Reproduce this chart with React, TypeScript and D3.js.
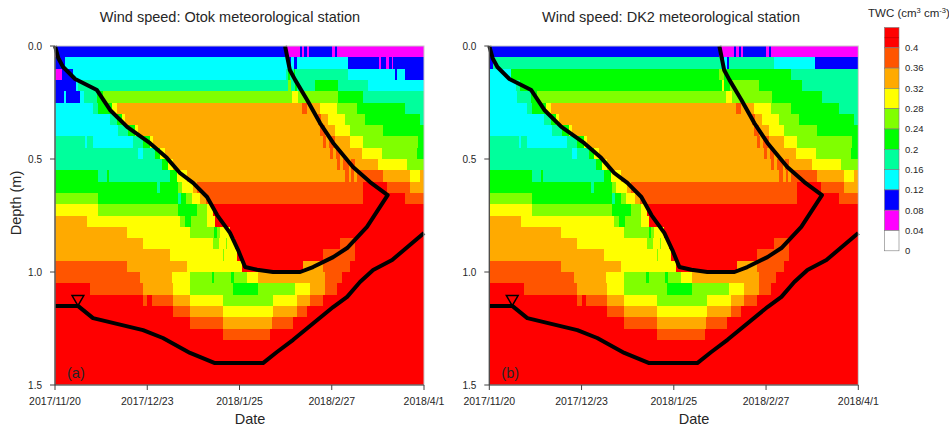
import React from "react";
import * as d3 from "d3";

// TWC classes, used as indexes into the palette
const W = 0, M = 1, B = 2, C = 3, S = 4, G = 5, L = 6, Y = 7, O = 8, D = 9, R = 10;

const palette = ["#ffffff", "#ff00ff", "#0000ff", "#00ffff", "#00ff9c", "#00ff00", "#80ff00", "#ffff00", "#ffaa00", "#ff5500", "#ff0000"];
const legendLabels = ["0.4", "0.36", "0.32", "0.28", "0.24", "0.2", "0.16", "0.12", "0.08", "0.04", "0"];
const dateTicks = ["2017/11/20", "2017/12/23", "2018/1/25", "2018/2/27", "2018/4/1"];
const depthTicks = [0, 0.5, 1.0, 1.5];
const layerThickness = 0.05;

// each row = one 5 cm layer; [start day since 2017/11/20, class]
const otokTopRows = [
  [[0, M], [0.7, B], [82.3, M], [87.7, B], [88.3, M], [89.2, B], [90, M], [90.8, B], [99.1, M], [100, B], [100.9, M]],
  [[0, B], [3.6, C], [83.4, B], [84.5, C], [85.5, B], [86.5, C], [104.8, B], [116, M], [116.7, B], [118.5, M], [119.5, B], [120.5, M], [121, B]],
  [[0, M], [2.5, B], [6.5, C], [82.8, S], [83.5, G], [84.2, S], [85.5, G], [86, S], [104.8, C], [121.6, B], [122.4, C], [125.2, B]],
  [[0, B], [7.5, C], [8.2, S], [83.4, L], [84.5, S], [86, G], [86.5, S], [93, G], [101.3, S], [112, C]],
  [[0, B], [3.3, C], [4, B], [8.9, C], [10.4, S], [15, G], [17, L], [84.8, Y], [86.9, L], [101.3, G], [110.2, S]],
];

const dk2TopRows = [
  [[0, M], [0.7, B], [82.3, M], [87.7, B], [88.3, M], [89.2, B], [90, M], [90.8, B], [99.1, M], [100, B], [100.9, M]],
  [[0, B], [1.5, S], [83.4, B], [84, C], [85, B], [85.9, S], [102, C], [116.5, B]],
  [[0, C], [7.8, G], [82.3, L], [84, G], [108, S]],
  [[0, C], [9.4, S], [11, G], [83.4, Y], [84, G], [86, L], [96.5, G], [112, S]],
  [[0, C], [10, S], [14.8, G], [17.2, L], [84.8, Y], [86.9, L], [101, G], [119, S]],
];

// layers 5..29 (0.25 m to 1.5 m), same at both stations
const deepRows = [
  [[0, C], [13.6, S], [15.4, G], [20.4, Y], [22.2, O], [88.4, D], [90.2, O], [94.8, Y], [100.9, L], [108.1, G], [125.2, S]],
  [[0, C], [19.7, S], [22.2, G], [24, Y], [25, O], [94.1, D], [95.2, O], [97.7, Y], [103.8, L], [110.9, G], [130.6, S]],
  [[0, C], [22.5, S], [26.1, G], [28.6, Y], [29.7, O], [94.8, D], [96.6, O], [100.2, Y], [105.5, L], [117.4, G]],
  [[0, S], [10.7, C], [11.4, S], [13.6, C], [27.9, S], [31.5, G], [34, Y], [35.1, O], [95.9, D], [97, O], [98, D], [100.2, O], [105.5, Y], [110.2, L], [129.9, G]],
  [[0, S], [29.7, C], [31.5, S], [35.8, G], [37.6, Y], [39.4, O], [98.4, D], [99.5, O], [100.5, D], [102, O], [109.8, Y], [117, L], [129.5, G]],
  [[0, S], [38.3, G], [40.4, Y], [42.2, O], [100.9, D], [102, O], [103, D], [105, O], [105.8, D], [107.3, O], [115.6, Y], [125.9, L]],
  [[0, G], [15.4, S], [18.6, G], [19.3, S], [41.1, G], [43.6, Y], [47.2, O], [103.8, D], [105, O], [106, D], [107, O], [108, D], [117.4, O], [127, Y], [130.6, O]],
  [[0, G], [36.5, S], [37.6, G], [44, L], [45.4, Y], [49.4, O], [50.8, D], [110.2, R], [118.8, D], [127, O]],
  [[0, L], [15.4, G], [44, S], [45, G], [47, L], [49, Y], [52, O], [54, D], [110.2, R], [125.2, D]],
  [[0, Y], [15.4, L], [44, G], [50.8, L], [54.4, Y], [56.5, R]],
  [[0, O], [11.4, Y], [44.7, L], [46.5, G], [48.5, L], [54.4, Y], [57.2, R]],
  [[0, O], [25.8, Y], [48.3, L], [57, G], [58, L], [59, Y], [62.6, R]],
  [[0, O], [31.5, Y], [56.5, L], [58.5, Y], [61, L], [61.5, Y], [64.4, R], [102, D], [107.3, R]],
  [[0, O], [41.1, Y], [60, L], [60.5, Y], [65.1, R], [95.9, D], [107.3, R]],
  [[0, D], [25.8, O], [47.2, Y], [66.9, R], [88.7, O], [95.9, D], [105.5, R]],
  [[0, D], [30.4, O], [41.9, Y], [48.3, L], [56, G], [57, L], [63, G], [64, L], [68.7, Y], [72.6, O], [96.6, D], [102.7, R]],
  [[0, R], [12.5, D], [31.5, O], [42.2, Y], [48.3, L], [63.7, G], [72.6, L], [85.9, Y], [91.2, O], [96.6, D], [100.9, R]],
  [[0, R], [31.5, D], [33, R], [34.7, D], [42.2, O], [48.3, Y], [60.1, L], [78, Y], [86.6, O], [91.2, D], [95.9, R]],
  [[0, R], [42.2, D], [48.3, O], [60.1, Y], [78, O], [86.6, D], [90.2, R]],
  [[0, R], [48.3, D], [60.1, O], [77.6, D], [85.2, R]],
  [[0, R], [60.1, D], [77, R]],
  [[0, R]],
  [[0, R]],
  [[0, R]],
  [[0, R]],
];

// frozen zone outline [day, depth m]
const frostFront = [
  [0, 0], [1.2, 0.054], [2.9, 0.093], [7.2, 0.146], [15, 0.195], [19.7, 0.283], [25.8, 0.358], [34, 0.43],
  [40, 0.495], [44.7, 0.562], [49.4, 0.606], [54.4, 0.668], [58, 0.748], [62.6, 0.827], [65.5, 0.903],
  [68, 0.978], [72.3, 0.99], [78, 1.0], [87.7, 1.0], [92.3, 0.978], [99.5, 0.934], [104.5, 0.894],
  [111.6, 0.8], [119, 0.66], [112.7, 0.602], [106.6, 0.535], [99.5, 0.429], [94.8, 0.341], [90.2, 0.239],
  [85.9, 0.15], [84, 0.106], [82.3, 0],
];
const waterTable = [
  [0, 1.15], [8.2, 1.15], [13.6, 1.204], [31.5, 1.257], [38.6, 1.292], [48.3, 1.358], [57.2, 1.403],
  [74.4, 1.403], [79.4, 1.354], [85.2, 1.3], [99.5, 1.155], [104.5, 1.11], [109.1, 1.044], [113.8, 0.991],
  [120.6, 0.947], [132, 0.827],
];
const markerPoint = [8.2, 1.15];

const START = Date.UTC(2017, 10, 20);
const END = Date.UTC(2018, 3, 1);
const DAY = 864e5;
const totalDays = (END - START) / DAY;
const parseDate = d3.utcParse("%Y/%m/%d");
const font = "'Liberation Sans', Arial, sans-serif";
const ink = "#262626";

function Panel({ left, rows, title, titleX, dateX, tag, showYLabel }: any) {
  const x = d3.scaleUtc().domain([new Date(START), new Date(END)]).range([left, left + 369]);
  const y = d3.scaleLinear().domain([0, 1.5]).range([46, 385]);
  const dayX = (d: number) => x(new Date(START + d * DAY));
  const line = d3.line<number[]>().x((p) => dayX(p[0])).y((p) => y(p[1]));
  const marker = d3.symbol().type(d3.symbolTriangle).size(60)();
  const fmt = d3.format(".1f");

  const cells: any[] = [];
  rows.forEach((segs: number[][], r: number) => {
    segs.forEach(([d0, c], i) => {
      const d1 = i + 1 < segs.length ? segs[i + 1][0] : totalDays;
      cells.push(
        <rect key={`${r}-${i}`} x={dayX(d0)} y={y(r * layerThickness)} width={dayX(d1) - dayX(d0)}
          height={y((r + 1) * layerThickness) - y(r * layerThickness)} fill={palette[c]} />
      );
    });
  });

  return (
    <g fontFamily={font} fill={ink}>
      <text x={titleX} y={22} fontSize={14.5} textAnchor="middle">{title}</text>
      <g shapeRendering="crispEdges">{cells}</g>
      <path d={line(frostFront) || ""} fill="none" stroke="#000" strokeWidth={4} strokeLinejoin="round" />
      <path d={line(waterTable) || ""} fill="none" stroke="#000" strokeWidth={4} strokeLinejoin="round" />
      <path d={marker || ""} transform={`translate(${dayX(markerPoint[0])},${y(markerPoint[1]) - 7}) rotate(180)`}
        fill="none" stroke="#000" strokeWidth={1.5} />
      <rect x={left} y={46} width={369} height={339} fill="none" stroke="#c8c8c8" strokeWidth={1} />
      <line x1={left} x2={left} y1={46} y2={385} stroke="#404040" strokeWidth={1.2} />
      <line x1={left} x2={left + 369} y1={385} y2={385} stroke="#404040" strokeWidth={1.2} />
      {depthTicks.map((t) => (
        <g key={t}>
          <line x1={left - 5} x2={left} y1={y(t)} y2={y(t)} stroke="#404040" />
          <text x={left - 13} y={y(t) + 3.5} fontSize={10} textAnchor="end">{fmt(t)}</text>
        </g>
      ))}
      {dateTicks.map((s) => {
        const px = x(parseDate(s) as Date);
        return (
          <g key={s}>
            <line x1={px} x2={px} y1={385} y2={390} stroke="#404040" />
            <text x={px} y={404.5} fontSize={10.5} textAnchor="middle">{s}</text>
          </g>
        );
      })}
      <text x={left + 12} y={378} fontSize={14.5}>{tag}</text>
      <text x={dateX} y={424} fontSize={14.5} textAnchor="middle">Date</text>
      {showYLabel && (
        <text transform="translate(21,203) rotate(-90)" fontSize={14.5} textAnchor="middle">Depth (m)</text>
      )}
    </g>
  );
}

export default function App() {
  const legendColors = palette.slice().reverse();
  const legendY = d3.scaleLinear().domain([0, legendColors.length]).range([27.5, 250.8]);
  return (
    <svg width={949} height={427} style={{ position: "absolute", left: 0, top: 0, background: "#fff" }}>
      <rect width={949} height={427} fill="#fff" />
      <Panel left={55} rows={[...otokTopRows, ...deepRows]} title="Wind speed: Otok meteorological station"
        titleX={230} dateX={250} tag="(a)" showYLabel />
      <Panel left={489.3} rows={[...dk2TopRows, ...deepRows]} title="Wind speed: DK2 meteorological station"
        titleX={671} dateX={694} tag="(b)" showYLabel={false} />
      <g fontFamily={font} fill={ink}>
        <text x={868} y={16.5} fontSize={11.5}>
          TWC (cm<tspan fontSize={7.5} dy={-4}>3</tspan><tspan dy={4}> cm</tspan>
          <tspan fontSize={7.5} dy={-4}>-3</tspan><tspan dy={4}>)</tspan>
        </text>
        {legendColors.map((c, i) => (
          <rect key={i} x={884.5} y={legendY(i)} width={14.5} height={legendY(i + 1) - legendY(i)}
            fill={c} stroke="#7a7a7a" strokeWidth={0.6} />
        ))}
        <line x1={884.5} x2={899} y1={(legendY(0) + legendY(1)) / 2} y2={(legendY(0) + legendY(1)) / 2}
          stroke="#b00000" strokeWidth={0.6} />
        {legendLabels.map((t, i) => (
          <text key={t} x={905} y={legendY(i + 1) + 3.3} fontSize={9.5}>{t}</text>
        ))}
      </g>
    </svg>
  );
}
